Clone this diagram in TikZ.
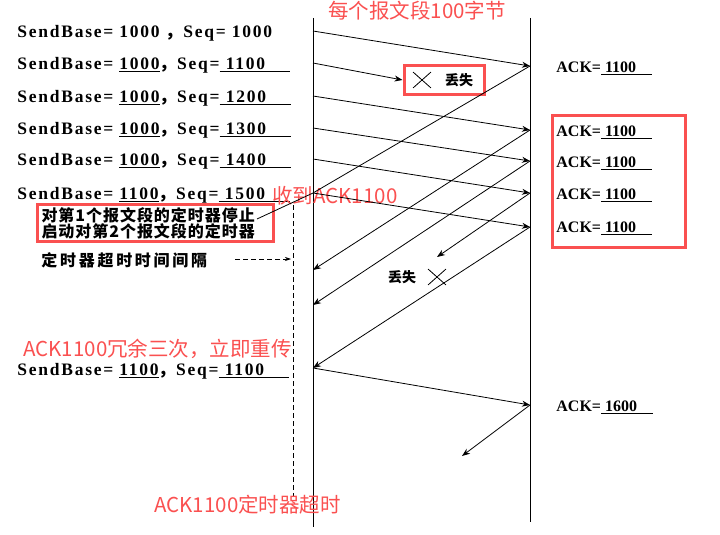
\documentclass[tikz,border=0pt]{standalone}
\usepackage{fontspec}
\setmainfont{Liberation Serif}
\newfontfamily\cjk{Noto Sans CJK SC}
\newfontfamily\cjkbox[LetterSpace=6]{Noto Sans CJK SC}
\newfontfamily\cjkwide[LetterSpace=17]{Noto Sans CJK SC}
\newfontfamily\labfont[LetterSpace=10]{Liberation Serif}
\usetikzlibrary{arrows.meta}
\usetikzlibrary{shapes.misc}
\definecolor{markred}{RGB}{250,80,80}
\newcommand{\sendrow}[2]{SendBase= \underline{#1}{\cjk\bfseries ，}Seq=\underline{\ #2\ \ \ \ }}
\newcommand{\ackval}[1]{ACK=\underline{\ #1\ \ \ \ }}

\begin{document}
\begin{tikzpicture}[x=1pt, y=-1pt, line width=0.8pt,
    >={Stealth[length=8pt,width=6pt]},
    lab/.style={anchor=west, inner sep=0pt, font=\labfont\bfseries\fontsize{17.5}{20}\selectfont},
    acklab/.style={anchor=west, inner sep=0pt, font=\bfseries\fontsize{16}{18}\selectfont},
    note/.style={inner sep=0pt, text=markred, font=\cjk\fontsize{20.5}{24}\selectfont},
    lost/.style={inner sep=0pt, font=\cjk\bfseries\fontsize{14}{16}\selectfont},
    cross/.style={cross out, draw, inner sep=0pt, minimum width=17pt, minimum height=15pt},
    redbox/.style={draw=markred, line width=3pt}]

    \useasboundingbox (0,0) rectangle (720,535);

    \coordinate (stop) at (313,18);
    \coordinate (sbot) at (313,527);
    \coordinate (rtop) at (530,18);
    \coordinate (rbot) at (530,522);
    \draw (stop) -- (sbot);
    \draw (rtop) -- (rbot);

    \foreach \n/\y in {1/31, 2/63, 3/96, 4/128, 5/159, 6/193, 7/368}
      \coordinate (s\n) at (313,\y);
    \foreach \n/\y in {1/66, 3/130, 4/161, 5/193, 6/227, 7/405}
      \coordinate (r\n) at (530,\y);
    \coordinate (a3) at (313,270);
    \coordinate (a4) at (313,305);
    \coordinate (a5) at (437,257);
    \coordinate (a7) at (462,456);

    \node[lab] (row1) at (17,33) {SendBase= 1000 {\cjk\bfseries ，}Seq= 1000};
    \foreach \n/\y/\b/\s in {2/65/1000/1100, 3/98/1000/1200, 4/130/1000/1300,
      5/161/1000/1400, 6/195/1100/1500}
      \node[lab] (row\n) at (17,\y) {\sendrow{\b}{\s}};
    \node[lab] (row7) at (17,371) {\sendrow{1100}{1100}};

    \node[acklab] (ack1) at (556,68) {\ackval{1100}};
    \foreach \n/\y in {3/132, 4/163, 5/195, 6/228}
      \node[acklab] (ack\n) at (556,\y) {\ackval{1100}};
    \node[acklab] (ack7) at (556,407) {\ackval{1600}};
    \draw[redbox] (552,115) rectangle (685,247);

    \node[redbox, minimum width=80pt, minimum height=28pt] (lostbox) at (444,80) {};
    \node[cross] (x1) at (422,80) {};
    \node[lost] (lost1) at (459,80) {丢失};
    \node[lost] (lost2) at (402,277) {丢失};
    \node[cross] (x2) at (437,277) {};

    \node[redbox, anchor=west, inner xsep=4pt, inner ysep=3pt, align=left, text width=228pt,
      font=\cjkbox\bfseries\fontsize{16}{16}\selectfont] (timerbox) at (36,223)
      {对第1个报文段的定时器停止\\启动对第2个报文段的定时器};
    \coordinate (boxtip) at (257,219);
    \node[anchor=west, inner sep=0pt, font=\cjkwide\bfseries\fontsize{16}{18}\selectfont]
      (interval) at (41,260) {定时器超时时间间隔};
    \coordinate (dtop) at (293,205);
    \coordinate (dbot) at (293,497);
    \coordinate (dtip) at (291,259);
    \draw[dash pattern=on 5pt off 3pt, line width=0.7pt] (dtop) -- (dbot);
    \draw[->, dash pattern=on 5pt off 3pt, line width=0.7pt,
      >={Stealth[length=6pt,width=4pt]}] (235,259) -- (dtip);

    \node[note] (segsize) at (417,11) {每个报文段100字节};
    \node[note, anchor=west] (gotack) at (272,196) {收到ACK1100};
    \node[note, anchor=west] (dupack) at (23,349) {ACK1100冗余三次，立即重传};
    \node[note, anchor=west] (timeout) at (154,505) {ACK1100定时器超时};

    \draw[->] (s1) -- (r1);
    \draw[->] (s2) -- (lostbox.west);
    \foreach \n in {3,...,6}
      \draw[->] (s\n) -- (r\n);
    \draw (r1) -- (s6) -- (boxtip);
    \draw[->] (r3) -- (a3);
    \draw[->] (r4) -- (a4);
    \draw[->] (r5) -- (a5);
    \draw[->] (r6) -- (s7);
    \draw[->] (s7) -- (r7);
    \draw[->] (r7) -- (a7);

  \end{tikzpicture}
\end{document}
